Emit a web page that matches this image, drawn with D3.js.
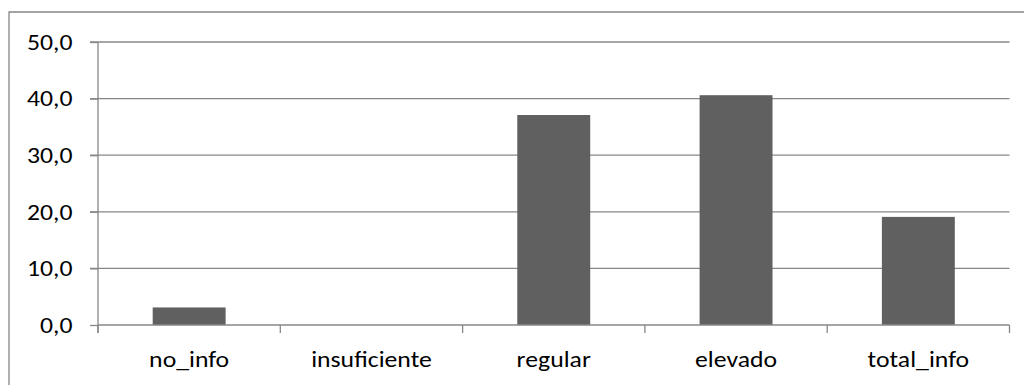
<!DOCTYPE html>
<html>
<head>
<meta charset="utf-8">
<script src="https://cdn.jsdelivr.net/npm/d3@7"></script>
<style>
  html, body { margin: 0; padding: 0; background: #fff; }
  svg { display: block; }
  text { font-family: Carlito, Calibri, "Open Sans", sans-serif; fill: #000; }
</style>
</head>
<body>
<svg id="chart" width="1024" height="385"></svg>
<script>
// Categories and their percentage values
const categories = ["no_info", "insuficiente", "regular", "elevado", "total_info"];
const values = [3.1, 0.0, 37.1, 40.6, 19.1];
const yTicks = [0, 10, 20, 30, 40, 50];

const W = 1024, H = 385;
const plot = { left: 98, right: 1009.5, top: 42, bottom: 325 };
const textScaleX = 1.17;   // wide label lettering
const fontSize = 22;
const gridColor = "#878787";

const svg = d3.select("#chart");

// Chart-area frame (left and top edges visible)
svg.append("path")
  .attr("d", `M9,${H + 5} V12 H${W + 5}`)
  .attr("fill", "none")
  .attr("stroke", gridColor)
  .attr("stroke-width", 1.3);

const x = d3.scaleBand().domain(categories).range([plot.left, plot.right]).padding(0);
const y = d3.scaleLinear().domain([0, 50]).range([plot.bottom, plot.top]);

// Horizontal gridlines (including the left tick stub)
svg.append("g")
  .selectAll("line")
  .data(yTicks.filter(d => d > 0))
  .join("line")
  .attr("x1", plot.left - 8)
  .attr("x2", plot.right)
  .attr("y1", d => y(d))
  .attr("y2", d => y(d))
  .attr("stroke", gridColor)
  .attr("stroke-width", 1.3);

// Y axis
const yAxis = svg.append("g")
  .attr("transform", `translate(${plot.left},0)`)
  .call(d3.axisLeft(y).tickValues(yTicks).tickSize(8).tickPadding(0)
    .tickFormat(d => d3.format(".1f")(d).replace(".", ",")));
yAxis.select(".domain").remove();
yAxis.selectAll(".tick line").attr("stroke", gridColor).attr("stroke-width", 1.3);
yAxis.selectAll(".tick text")
  .attr("x", -25.5 / textScaleX)
  .attr("dy", "0.33em")
  .attr("transform", `scale(${textScaleX},1)`)
  .style("font-size", fontSize + "px")
  .style("font-family", null);

// Bars
const barW = x.bandwidth() * 0.4;
svg.append("g")
  .selectAll("rect")
  .data(categories.map((c, i) => ({ c, v: values[i] })))
  .join("rect")
  .attr("x", d => x(d.c) + (x.bandwidth() - barW) / 2)
  .attr("width", barW)
  .attr("y", d => y(d.v))
  .attr("height", d => y(0) - y(d.v))
  .attr("fill", "#606060");

// Vertical axis line down to the first category boundary tick
svg.append("line")
  .attr("x1", plot.left).attr("x2", plot.left)
  .attr("y1", plot.top).attr("y2", plot.bottom + 8)
  .attr("stroke", gridColor).attr("stroke-width", 1.3);

// X axis: baseline, category labels at band centres
const xAxis = svg.append("g")
  .attr("transform", `translate(0,${plot.bottom})`)
  .call(d3.axisBottom(x).tickSize(0).tickPadding(0));
xAxis.select(".domain")
  .attr("d", `M${plot.left},0H${plot.right}`)
  .attr("stroke", gridColor).attr("stroke-width", 1.3);
xAxis.selectAll(".tick text")
  .attr("y", 42)
  .attr("dy", 0)
  .attr("transform", `scale(${textScaleX},1)`)
  .style("font-size", fontSize + "px")
  .style("font-family", null);

// Category boundary ticks
const boundaries = categories.map(c => x(c)).concat([plot.right]);
xAxis.append("g")
  .selectAll("line")
  .data(boundaries)
  .join("line")
  .attr("x1", d => d).attr("x2", d => d)
  .attr("y1", 0).attr("y2", 8)
  .attr("stroke", gridColor).attr("stroke-width", 1.3);
</script>
</body>
</html>
